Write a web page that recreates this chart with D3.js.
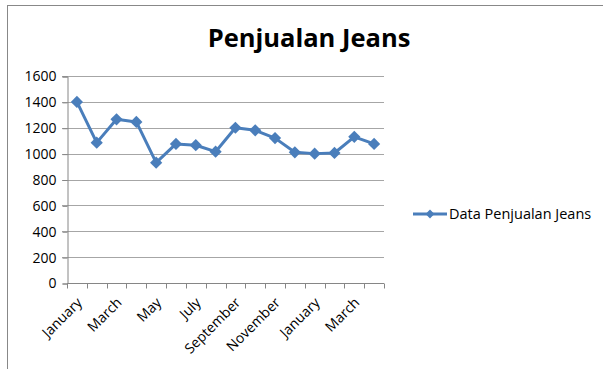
<!DOCTYPE html>
<html>
<head>
<meta charset="utf-8">
<script src="https://cdn.jsdelivr.net/npm/d3@7"></script>
<style>
  body { margin: 0; background: #fff; }
  text { font-family: "Open Sans", "DejaVu Sans", sans-serif; fill: #000; }
</style>
</head>
<body>
<div id="chart"></div>
<script>
const months = ['January', 'February', 'March', 'April', 'May', 'June', 'July', 'August',
  'September', 'October', 'November', 'December', 'January', 'February', 'March', 'April'];
const sales = [1400, 1085, 1265, 1245, 930, 1075, 1065, 1015, 1200, 1180, 1120, 1010, 1000, 1005, 1130, 1075];
const yTicks = [0, 200, 400, 600, 800, 1000, 1200, 1400, 1600];
const seriesName = 'Data Penjualan Jeans';
const title = 'Penjualan Jeans';

const width = 603;
const height = 369;
const margin = { top: 76, left: 67, right: 219, bottom: 86 };
const blue = '#4a7ebb';

const svg = d3.select('#chart')
  .append('svg')
  .attr('width', width)
  .attr('height', height);

// chart frame
svg.append('rect')
  .attr('x', 7.5).attr('y', 5.5)
  .attr('width', 620).attr('height', 400)
  .attr('fill', 'none')
  .attr('stroke', '#888');

svg.append('text')
  .attr('x', 309).attr('y', 47)
  .attr('text-anchor', 'middle')
  .style('font-size', '25.5px')
  .style('font-weight', 'bold')
  .text(title);

const xCoord = d3.scaleBand()
  .domain(d3.range(months.length))
  .range([margin.left, width - margin.right]);

const yCoord = d3.scaleLinear()
  .domain([0, 1600])
  .range([height - margin.bottom, margin.top]);

// gridlines
svg.append('g')
  .selectAll('line')
  .data(yTicks.slice(1))
  .join('line')
  .attr('x1', margin.left - 5)
  .attr('x2', width - margin.right)
  .attr('y1', d => Math.round(yCoord(d)) + 0.5)
  .attr('y2', d => Math.round(yCoord(d)) + 0.5)
  .attr('stroke', '#a6a6a6');

const yAxis = d3.axisLeft(yCoord).tickValues(yTicks).tickFormat(d3.format('d')).tickSize(5).tickPadding(6);
const yG = svg.append('g')
  .attr('transform', `translate(${margin.left + 0.5}, 0.5)`)
  .call(yAxis);
yG.selectAll('path, line').attr('stroke', '#868686');
yG.selectAll('text').style('font-size', '14px');

// x axis with ticks on category boundaries
const baseY = Math.round(yCoord(0)) + 0.5;
const xG = svg.append('g');
xG.append('line')
  .attr('x1', margin.left).attr('x2', width - margin.right)
  .attr('y1', baseY).attr('y2', baseY)
  .attr('stroke', '#868686');
xG.selectAll('.tick')
  .data(d3.range(months.length + 1))
  .join('line')
  .attr('class', 'tick')
  .attr('x1', i => Math.round(margin.left + i * xCoord.step()) + 0.5)
  .attr('x2', i => Math.round(margin.left + i * xCoord.step()) + 0.5)
  .attr('y1', baseY).attr('y2', baseY + 5)
  .attr('stroke', '#868686');

xG.selectAll('text')
  .data(months.map((m, i) => ({ m, i })).filter(d => d.i % 2 === 0))
  .join('text')
  .attr('transform', d => `translate(${xCoord(d.i) + xCoord.bandwidth() / 2 + 6}, ${baseY + 20}) rotate(-45)`)
  .attr('text-anchor', 'end')
  .style('font-size', '14px')
  .text(d => d.m);

// series
const line = d3.line()
  .x((d, i) => xCoord(i) + xCoord.bandwidth() / 2)
  .y(d => yCoord(d));

svg.append('path')
  .datum(sales)
  .attr('d', line)
  .attr('fill', 'none')
  .attr('stroke', blue)
  .attr('stroke-width', 3)
  .attr('stroke-linejoin', 'round');

const diamond = d3.symbol().type(d3.symbolDiamond2).size(95);
svg.append('g')
  .selectAll('path')
  .data(sales)
  .join('path')
  .attr('d', diamond)
  .attr('transform', (d, i) => `translate(${xCoord(i) + xCoord.bandwidth() / 2}, ${yCoord(d)})`)
  .attr('fill', blue);

// legend
const legend = svg.append('g').attr('transform', 'translate(413, 214)');
legend.append('line')
  .attr('x1', 0).attr('x2', 34)
  .attr('stroke', blue).attr('stroke-width', 3);
legend.append('path')
  .attr('d', d3.symbol().type(d3.symbolDiamond2).size(50))
  .attr('transform', 'translate(17, 0)')
  .attr('fill', blue);
legend.append('text')
  .attr('x', 36).attr('y', 5)
  .style('font-size', '14.5px')
  .text(seriesName);
</script>
</body>
</html>
